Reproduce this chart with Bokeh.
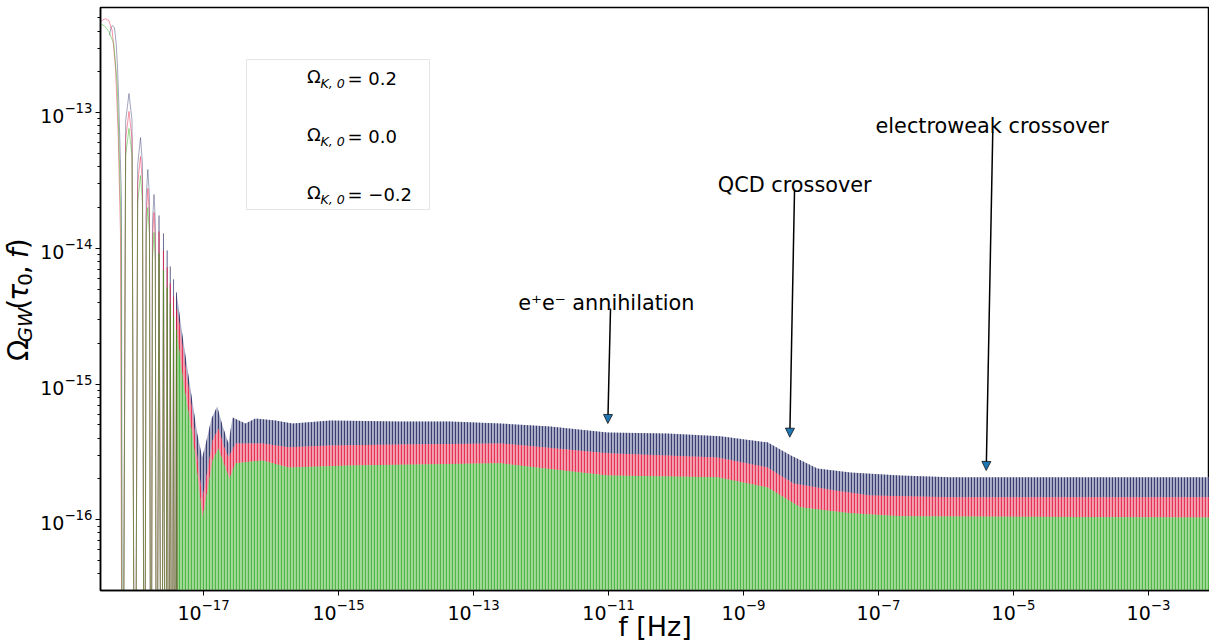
import math
from bokeh.plotting import figure
from bokeh.layouts import row
from bokeh.models import (Range1d, FixedTicker, LogTickFormatter, Label, Arrow,
                          NormalHead, Legend, LegendItem)
from bokeh.embed import file_html
from bokeh.resources import INLINE

FONT = "DejaVu Sans"

# ---------------- data (log10 units) ----------------
F_LIMITS_LOG10 = [-18.526, -2.096]
OMEGA_LIMITS_LOG10 = [-16.521, -12.224]
F_TICKS_LOG10 = [-17, -15, -13, -11, -9, -7, -5, -3]
OMEGA_TICKS_LOG10 = [-16, -15, -14, -13]

SERIES_NAMES = ["0.2", "0.0", "\u22120.2"]
SERIES_COLORS = ["#22b00c", "#e8173d", "#1b1f5c"]

# first (broad) lobe of each curve
LOBE_F_GREEN = [-18.526, -18.467, -18.403, -18.329, -18.279, -18.256, -18.219]
LOBE_OMEGA_GREEN = [-12.344, -12.360, -12.400, -12.490, -12.790, -13.150, -13.890]
LOBE_F_RED = [-18.526, -18.496, -18.452, -18.403, -18.353, -18.304, -18.264, -18.230]
LOBE_OMEGA_RED = [-12.332, -12.316, -12.307, -12.320, -12.394, -12.664, -13.153, -13.889]
LOBE_F_BLUE = [-18.393, -18.370, -18.348, -18.319, -18.293, -18.274, -18.256, -18.215]
LOBE_OMEGA_BLUE = [-12.430, -12.371, -12.357, -12.374, -12.492, -12.664, -12.909, -13.646]

# resolved oscillations (troughs / shoulders / peaks)
SPARSE_F = [-18.200, -18.153, -18.104, -18.059, -18.015, -17.975, -17.933, -17.904,
            -17.874, -17.849, -17.825, -17.801, -17.778, -17.756, -17.733, -17.714,
            -17.696, -17.659, -17.622, -17.593, -17.563, -17.538, -17.514, -17.492,
            -17.467, -17.444, -17.422, -17.400, -17.380]
SPARSE_OMEGA_GREEN = [-19, -13.316, -13.116, -13.316, -19, -13.662, -13.462, -13.662,
                      -19, -13.898, -13.698, -13.898, -19, -14.082, -13.882, -14.082,
                      -19, -14.037, -19, -14.162, -19, -14.287, -19, -14.405,
                      -19, -14.501, -19, -14.597, -19]
SPARSE_OMEGA_RED = [-19, -13.190, -12.990, -13.190, -19, -13.522, -13.322, -13.522,
                    -19, -13.758, -13.558, -13.758, -19, -13.935, -13.735, -13.935,
                    -19, -13.875, -19, -14.015, -19, -14.140, -19, -14.258,
                    -19, -14.354, -19, -14.450, -19]
SPARSE_OMEGA_BLUE = [-19, -13.058, -12.858, -13.058, -19, -13.382, -13.182, -13.382,
                     -19, -13.618, -13.418, -13.618, -19, -13.802, -13.602, -13.802,
                     -19, -13.757, -19, -13.889, -19, -14.015, -19, -14.133,
                     -19, -14.228, -19, -14.324, -19]

# upper envelope of the unresolved (dense) oscillations
ENV_F_BLUE = [-17.400, -17.316, -17.241, -17.167, -17.093, -17.019, -16.956, -16.881,
              -16.797, -16.719, -16.630, -16.570, -16.378, -16.230, -15.933, -15.681,
              -15.119, -14.081, -13.341, -12.600, -11.859, -11.015, -10.126, -9.341,
              -8.644, -8.304, -7.904, -7.415, -6.674, -5.933, -2.0]
ENV_OMEGA_BLUE = [-14.324, -14.626, -14.877, -15.120, -15.363, -15.540, -15.415, -15.253,
                  -15.164, -15.304, -15.437, -15.245, -15.290, -15.253, -15.268, -15.290,
                  -15.268, -15.275, -15.275, -15.290, -15.312, -15.356, -15.363, -15.385,
                  -15.429, -15.525, -15.621, -15.651, -15.673, -15.687, -15.687]
ENV_F_RED = [-17.400, -17.370, -17.267, -17.167, -17.074, -17.015, -16.941, -16.867,
             -16.778, -16.704, -16.630, -16.526, -16.126, -15.741, -15.119, -14.081,
             -12.600, -11.015, -9.385, -8.644, -8.259, -7.667, -7.119, -5.933, -2.0]
ENV_OMEGA_RED = [-14.450, -14.508, -14.877, -15.194, -15.614, -15.842, -15.636, -15.415,
                 -15.327, -15.452, -15.540, -15.437, -15.437, -15.466, -15.452, -15.444,
                 -15.437, -15.510, -15.540, -15.614, -15.732, -15.783, -15.820, -15.834, -15.834]
ENV_F_GREEN = [-17.400, -17.296, -17.167, -17.074, -17.015, -16.941, -16.867, -16.778,
               -16.689, -16.615, -16.526, -16.126, -15.741, -14.822, -12.600, -11.015,
               -9.385, -8.644, -8.156, -7.415, -6.674, -2.0]
ENV_OMEGA_GREEN = [-14.597, -14.995, -15.363, -15.732, -15.983, -15.783, -15.562, -15.474,
                   -15.599, -15.695, -15.584, -15.562, -15.614, -15.599, -15.584, -15.673,
                   -15.687, -15.761, -15.908, -15.952, -15.974, -15.983]
ENV_FLOOR = -18.0

# annotations
ANNOT_TEXT = ["e\u207ae\u207b annihilation", "QCD crossover", "electroweak crossover"]
ANNOT_TEXT_F = [-11.032, -8.241, -5.316]
ANNOT_TEXT_OMEGA = [-14.400, -13.531, -13.101]
ARROW_START_F = [-10.970, -8.244, -5.307]
ARROW_START_OMEGA = [-14.442, -13.573, -13.143]
ARROW_TIP_F = [-11.010, -8.314, -5.404]
ARROW_TIP_OMEGA = [-15.290, -15.391, -15.636]


def pw(a):
    return [10.0 ** v for v in a]


# ---------------- main figure ----------------
p = figure(width=1173, height=644, x_axis_type="log", y_axis_type="log",
           x_range=Range1d(*pw(F_LIMITS_LOG10)), y_range=Range1d(*pw(OMEGA_LIMITS_LOG10)),
           output_backend="svg", toolbar_location=None,
           min_border_left=64, min_border_right=0, min_border_top=7, min_border_bottom=54)
p.grid.visible = False
p.outline_line_color = "black"
p.outline_line_width = 1.5
p.background_fill_color = "white"
p.border_fill_color = "white"

xa = p.xaxis[0]
xa.ticker = FixedTicker(ticks=pw(F_TICKS_LOG10), minor_ticks=[])
xa.formatter = LogTickFormatter()
ya = p.yaxis[0]
ya.ticker = FixedTicker(ticks=pw(OMEGA_TICKS_LOG10),
                        minor_ticks=[k * 10.0 ** n for n in range(-17, -12) for k in range(2, 10)])
ya.formatter = LogTickFormatter()
for ax in (xa, ya):
    ax.axis_line_width = 1.5
    ax.axis_line_color = "black"
    ax.major_tick_in = 0
    ax.major_tick_out = 5
    ax.minor_tick_in = 0
    ax.minor_tick_out = 3
    ax.major_tick_line_color = "black"
    ax.minor_tick_line_color = "black"
    ax.major_label_text_font = FONT
    ax.major_label_text_font_size = "19px"
    ax.major_label_text_color = "black"
    ax.major_label_standoff = 3
xa.axis_label = "f [Hz]"
xa.axis_label_text_font = FONT
xa.axis_label_text_font_size = "27px"
xa.axis_label_text_font_style = "normal"
xa.axis_label_text_color = "black"
xa.axis_label_standoff = -12

# dense (unresolved) bands
bands = [
    (ENV_F_BLUE, ENV_OMEGA_BLUE, "#aeb0c9", "#262b63"),
    (ENV_F_RED, ENV_OMEGA_RED, "#f4a0b0", "#e41e45"),
    (ENV_F_GREEN, ENV_OMEGA_GREEN, "#a3da9a", "#3fb236"),
]
for fx, om, fill, hatch in bands:
    p.varea(x=pw(fx), y1=pw([ENV_FLOOR] * len(fx)), y2=pw(om),
            fill_color=fill, fill_alpha=1.0,
            hatch_pattern="|", hatch_color=hatch, hatch_scale=3, hatch_weight=1.2, hatch_alpha=0.85)

# resolved oscillations
lines = [
    (LOBE_F_BLUE + SPARSE_F, LOBE_OMEGA_BLUE + SPARSE_OMEGA_BLUE, SERIES_COLORS[2], 0.4),
    (LOBE_F_RED + SPARSE_F, LOBE_OMEGA_RED + SPARSE_OMEGA_RED, SERIES_COLORS[1], 0.45),
    (LOBE_F_GREEN + SPARSE_F, LOBE_OMEGA_GREEN + SPARSE_OMEGA_GREEN, SERIES_COLORS[0], 0.45),
]
for fx, om, col, al in lines:
    p.line(pw(fx), pw(om), line_color=col, line_alpha=al, line_width=1)

# legend (glyph-only renderers)
items = []
for name, col in zip(SERIES_NAMES, SERIES_COLORS):
    r = p.line(x=[], y=[], line_color=col, line_width=1.2)
    items.append(LegendItem(label="\u03a9", renderers=[r]))
leg = Legend(items=items, location=(146, 380), padding=6, spacing=37,
             glyph_width=40, glyph_height=20, label_height=20, label_width=116,
             label_standoff=14, label_text_font=FONT, label_text_font_size="18px",
             label_text_color="black",
             border_line_color="#cccccc", border_line_width=1,
             background_fill_alpha=0.0, margin=0)
p.add_layout(leg, "center")

for i, name in enumerate(SERIES_NAMES):
    sy = 512.5 - 58 * i
    p.add_layout(Label(x=220, y=sy - 5, x_units="screen", y_units="screen", text="K, 0",
                       text_font=FONT, text_font_size="12.6px", text_font_style="italic",
                       text_color="black", text_baseline="middle", text_align="left"))
    p.add_layout(Label(x=247, y=sy, x_units="screen", y_units="screen", text="= " + name,
                       text_font=FONT, text_font_size="18px", text_color="black",
                       text_baseline="middle", text_align="left"))

# annotations
for t, tf, to, sf, so, ef, eo in zip(ANNOT_TEXT, ANNOT_TEXT_F, ANNOT_TEXT_OMEGA,
                                     ARROW_START_F, ARROW_START_OMEGA, ARROW_TIP_F, ARROW_TIP_OMEGA):
    p.add_layout(Label(x=10 ** tf, y=10 ** to, text=t, text_font=FONT, text_font_size="20.8px",
                       text_color="black", text_align="center", text_baseline="alphabetic"))
    p.add_layout(Arrow(end=NormalHead(size=9, fill_color="#1f77b4", line_color="#111111", line_width=0.8),
                       x_start=10 ** sf, y_start=10 ** so, x_end=10 ** ef, y_end=10 ** eo,
                       line_color="black", line_width=1.5))

# ---------------- y-axis title panel (pieces, so that sub-scripts can be drawn) ----------------
ylab_fig = figure(width=36, height=644, x_range=Range1d(0, 36), y_range=Range1d(644, 0),
                  x_axis_location=None, y_axis_location=None, output_backend="svg",
                  toolbar_location=None, min_border=0, min_border_left=0, min_border_right=0,
                  min_border_top=0, min_border_bottom=0, title=None)
ylab_fig.grid.visible = False
ylab_fig.outline_line_color = None
ylab_fig.border_fill_color = "white"

# (text, size, style, centre x, centre y) in panel pixels
ylab = [("\u03a9", "28px", "normal", 17.8, 378.7),
        ("GW", "19.6px", "italic", 24.6, 350.7),
        ("(", "28px", "normal", 17.8, 327.9),
        ("\u03c4", "28px", "italic", 17.8, 314.6),
        ("0", "19.6px", "normal", 24.6, 300.6),
        (",", "28px", "normal", 17.8, 289.8),
        ("f", "28px", "italic", 17.8, 271.6),
        (")", "28px", "normal", 17.8, 261.1)]
for t, fs, st, cx, cy in ylab:
    ylab_fig.add_layout(Label(x=cx, y=cy, text=t, angle=math.pi / 2, text_font=FONT,
                              text_font_size=fs, text_font_style=st, text_color="black",
                              text_align="center", text_baseline="middle"))

layout = row(ylab_fig, p, spacing=0)
open("out.html", "w").write(file_html(layout, INLINE))
